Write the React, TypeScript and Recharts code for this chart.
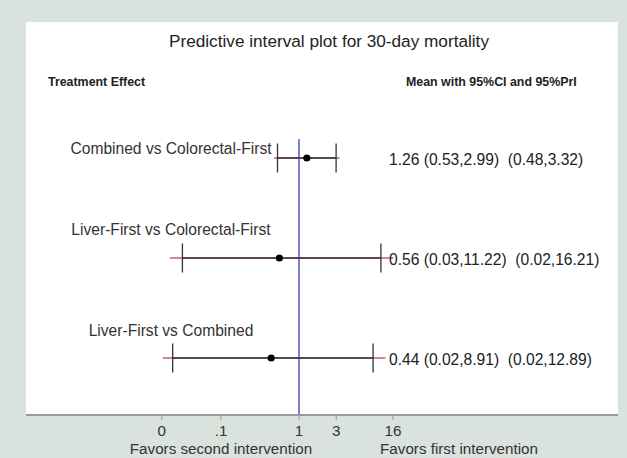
import React from 'react';
import {
  ScatterChart,
  Scatter,
  XAxis,
  YAxis,
  ErrorBar,
  ReferenceLine,
  CartesianGrid,
  Customized,
} from 'recharts';

// comparisons, top to bottom
const rowLabels = [
  'Combined vs Colorectal-First',
  'Liver-First vs Colorectal-First',
  'Liver-First vs Combined',
];
const means = [1.26, 0.56, 0.44];
const ciLow = [0.53, 0.032, 0.024];
const ciHigh = [2.99, 11.22, 8.91];
const piLow = [0.48, 0.022, 0.018];
const piHigh = [3.32, 16.21, 12.89];

const tickValues = [0.0174, 0.1, 1, 3, 16];
const tickLabels = ['0', '.1', '1', '3', '16'];

const FONT = '"Liberation Sans", Arial, Helvetica, sans-serif';
const LABEL_DY = [-4, -23, -22];

const data = means.map((m, i) => ({
  row: i + 1,
  mean: m,
  label: rowLabels[i],
  ci: [m - ciLow[i], ciHigh[i] - m],
  pi: [m - piLow[i], piHigh[i] - m],
  text: `${m.toFixed(2)} (${ciLow[i].toFixed(2)},${ciHigh[i].toFixed(2)})  (${piLow[i].toFixed(
    2
  )},${piHigh[i].toFixed(2)})`,
}));

const fmtTick = (v: number) => {
  const i = tickValues.indexOf(v);
  return i >= 0 ? tickLabels[i] : String(v);
};

const RowShape = (props: any) => {
  const { cx, cy, payload, index } = props;
  const i = typeof index === 'number' ? index : payload.row - 1;
  return (
    <g>
      <text
        x={171}
        y={cy + LABEL_DY[i]}
        textAnchor="middle"
        fontSize={15.6}
        fontFamily={FONT}
        fill="#333"
      >
        {payload.label}
      </text>
      <circle cx={cx} cy={cy} r={3.6} fill="#000" />
      <text
        x={389}
        y={cy + 1}
        dominantBaseline="central"
        fontSize={15.6}
        fontFamily={FONT}
        fill="#222"
        style={{ whiteSpace: 'pre' }}
      >
        {payload.text}
      </text>
    </g>
  );
};

const Titles = () => (
  <g fontFamily={FONT}>
    <text x={329} y={47} textAnchor="middle" fontSize={17.2} fill="#222">
      Predictive interval plot for 30-day mortality
    </text>
    <text x={48} y={86} fontSize={12.4} fontWeight="bold" fill="#222">
      Treatment Effect
    </text>
    <text x={406} y={86} fontSize={12.4} fontWeight="bold" fill="#222">
      Mean with 95%CI and 95%PrI
    </text>
    <text x={221} y={454} textAnchor="middle" fontSize={15.2} fill="#333">
      Favors second intervention
    </text>
    <text x={459} y={454} textAnchor="middle" fontSize={15.2} fill="#333">
      Favors first intervention
    </text>
  </g>
);

export default function App() {
  return (
    <div
      style={{
        position: 'absolute',
        left: 0,
        top: 0,
        width: 627,
        height: 458,
        background: '#dae2de',
      }}
    >
      <ScatterChart
        width={627}
        height={458}
        margin={{ top: 22, right: 9, bottom: 13, left: 26 }}
      >
        <CartesianGrid fill="#fff" horizontal={false} vertical={false} />
        <XAxis
          type="number"
          dataKey="mean"
          scale="log"
          domain={[0.000316, 12300]}
          allowDataOverflow
          ticks={tickValues}
          tickFormatter={fmtTick}
          interval={0}
          height={30}
          axisLine={{ stroke: '#999', strokeWidth: 2 }}
          tickLine={{ stroke: '#999' }}
          tickSize={5}
          tickMargin={5}
          tick={{ fontSize: 15.2, fill: '#333', fontFamily: FONT }}
        />
        <YAxis type="number" dataKey="row" domain={[-0.36, 3.57]} reversed hide width={0} />
        <ReferenceLine
          segment={[
            { x: 1, y: 0.81 },
            { x: 1, y: 3.57 },
          ]}
          stroke="#5454c8"
          strokeWidth={1.5}
          ifOverflow="extendDomain"
        />
        <Scatter data={data} shape={RowShape} isAnimationActive={false}>
          <ErrorBar
            dataKey="pi"
            direction="x"
            width={0}
            stroke="#c0606e"
            strokeWidth={1.3}
            isAnimationActive={false}
          />
          <ErrorBar
            dataKey="ci"
            direction="x"
            width={14.5}
            stroke="#333"
            strokeWidth={1.3}
            isAnimationActive={false}
          />
        </Scatter>
        <Customized component={Titles} />
      </ScatterChart>
    </div>
  );
}
